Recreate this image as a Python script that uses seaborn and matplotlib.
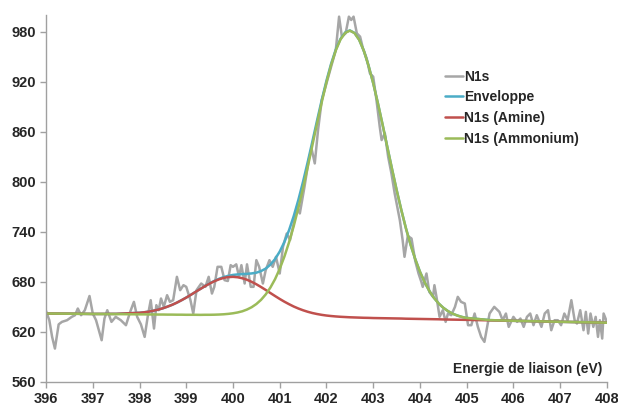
import matplotlib
matplotlib.use("Agg")
import matplotlib.pyplot as plt
import seaborn as sns
import pandas as pd

# ---- data ----
energy = [396.00, 396.07, 396.13, 396.19, 396.27, 396.34, 396.45, 396.55, 396.62, 396.68,
          396.75, 396.83, 396.93, 397.00, 397.07, 397.19, 397.25, 397.31, 397.40, 397.49,
          397.60, 397.71, 397.80, 397.88, 397.95, 398.03, 398.11, 398.18, 398.24, 398.31,
          398.36, 398.41, 398.46, 398.52, 398.59, 398.65, 398.72, 398.80, 398.87, 398.94,
          399.00, 399.09, 399.15, 399.22, 399.32, 399.41, 399.48, 399.55, 399.60, 399.67,
          399.75, 399.82, 399.89, 399.95, 400.00, 400.07, 400.13, 400.18, 400.25, 400.30,
          400.38, 400.44, 400.50, 400.56, 400.64, 400.70, 400.78, 400.85, 400.92, 401.00,
          401.07, 401.15, 401.22, 401.30, 401.37, 401.43, 401.53, 401.62, 401.68, 401.75,
          401.82, 401.90, 402.00, 402.10, 402.20, 402.27, 402.33, 402.41, 402.48, 402.53,
          402.58, 402.65, 402.72, 402.78, 402.86, 402.93, 403.00, 403.07, 403.14, 403.18,
          403.25, 403.32, 403.39, 403.46, 403.57, 403.63, 403.67, 403.74, 403.82, 403.90,
          403.97, 404.03, 404.06, 404.14, 404.20, 404.28, 404.31, 404.36, 404.42, 404.49,
          404.55, 404.60, 404.67, 404.75, 404.81, 404.88, 404.96, 405.03, 405.10, 405.17,
          405.24, 405.31, 405.38, 405.49, 405.59, 405.70, 405.77, 405.84, 405.90, 406.00,
          406.08, 406.15, 406.22, 406.29, 406.36, 406.43, 406.50, 406.60, 406.67, 406.74,
          406.81, 406.88, 406.95, 407.02, 407.09, 407.16, 407.24, 407.31, 407.36, 407.43,
          407.50, 407.55, 407.60, 407.65, 407.71, 407.76, 407.81, 407.85, 407.90, 407.93,
          408.00]
n1s = [645, 634, 614, 600, 629, 632, 634, 638, 640, 648,
       640, 646, 663, 642, 634, 610, 636, 646, 632, 638,
       634, 628, 644, 656, 638, 629, 614, 640, 658, 624,
       652, 646, 660, 650, 664, 656, 658, 686, 670, 676,
       674, 658, 642, 670, 678, 674, 686, 666, 674, 698,
       698, 682, 681, 700, 698, 701, 686, 700, 678, 701,
       674, 674, 706, 698, 678, 694, 706, 698, 710, 690,
       722, 738, 730, 750, 770, 762, 794, 826, 840, 822,
       862, 898, 918, 938, 958, 998, 974, 978, 998, 994,
       998, 978, 974, 960, 948, 930, 926, 898, 866, 850,
       858, 830, 810, 786, 754, 730, 710, 735, 732, 705,
       690, 680, 674, 690, 668, 662, 676, 660, 638, 646,
       632, 642, 640, 650, 662, 656, 654, 628, 628, 642,
       626, 614, 608, 642, 650, 644, 634, 642, 626, 638,
       632, 636, 626, 638, 642, 628, 640, 626, 642, 646,
       622, 634, 634, 628, 642, 634, 658, 634, 630, 646,
       622, 644, 618, 642, 626, 638, 614, 634, 612, 642,
       632]

fit_energy = [396.0, 396.5, 397.0, 397.5, 398.0, 398.1, 398.2, 398.3, 398.4, 398.5,
              398.6, 398.7, 398.8, 398.9, 399.0, 399.1, 399.2, 399.3, 399.4, 399.5,
              399.6, 399.7, 399.8, 399.9, 400.0, 400.1, 400.2, 400.3, 400.4, 400.5,
              400.6, 400.7, 400.8, 400.9, 401.0, 401.1, 401.2, 401.3, 401.4, 401.5,
              401.6, 401.7, 401.8, 401.9, 402.0, 402.1, 402.2, 402.3, 402.4, 402.5,
              402.6, 402.7, 402.8, 402.9, 403.0, 403.1, 403.2, 403.3, 403.4, 403.5,
              403.6, 403.7, 403.8, 403.9, 404.0, 404.1, 404.2, 404.3, 404.4, 404.5,
              404.6, 404.7, 404.8, 404.9, 405.0, 405.5, 406.0, 406.5, 407.0, 407.5,
              408.0]
enveloppe = [642.0, 641.8, 641.5, 641.6, 642.9, 643.5, 644.3, 645.4, 646.7, 648.3,
             650.3, 652.5, 655.1, 658.0, 661.2, 664.5, 668.0, 671.5, 674.9, 678.2,
             681.1, 683.6, 685.7, 687.2, 688.3, 688.9, 689.3, 689.6, 690.1, 691.0,
             692.9, 695.9, 700.6, 707.3, 716.3, 727.8, 742.0, 758.9, 778.5, 800.3,
             823.9, 848.6, 873.7, 898.2, 921.2, 941.6, 958.6, 971.3, 979.0, 981.5,
             978.5, 970.3, 957.0, 939.4, 918.3, 894.3, 868.7, 842.3, 816.0, 790.5,
             766.5, 744.3, 724.5, 707.2, 692.2, 679.6, 669.2, 660.8, 654.1, 648.9,
             644.9, 641.8, 639.6, 637.9, 636.7, 634.1, 633.3, 632.7, 632.1, 631.6,
             631.0]
amine = [642.0, 641.8, 641.5, 641.6, 642.9, 643.5, 644.3, 645.4, 646.7, 648.3,
         650.3, 652.5, 655.1, 658.0, 661.1, 664.5, 668.0, 671.4, 674.8, 677.9,
         680.7, 683.0, 684.7, 685.7, 686.0, 685.5, 684.3, 682.5, 680.0, 677.1,
         673.8, 670.3, 666.6, 663.0, 659.5, 656.2, 653.2, 650.4, 648.0, 645.9,
         644.1, 642.6, 641.4, 640.4, 639.6, 639.0, 638.5, 638.1, 637.8, 637.5,
         637.3, 637.1, 636.9, 636.8, 636.6, 636.5, 636.4, 636.3, 636.2, 636.1,
         636.0, 635.8, 635.7, 635.6, 635.5, 635.4, 635.3, 635.2, 635.1, 634.9,
         634.8, 634.7, 634.6, 634.5, 634.4, 633.8, 633.3, 632.7, 632.1, 631.6,
         631.0]
ammonium = [642.0, 641.8, 641.5, 641.3, 641.0, 641.0, 640.9, 640.9, 640.8, 640.8,
            640.7, 640.7, 640.6, 640.6, 640.5, 640.5, 640.5, 640.4, 640.5, 640.5,
            640.6, 640.8, 641.1, 641.6, 642.3, 643.3, 644.7, 646.8, 649.6, 653.4,
            658.4, 664.9, 673.1, 683.2, 695.6, 710.3, 727.5, 747.0, 768.9, 792.7,
            818.0, 844.1, 870.3, 895.7, 919.3, 940.2, 957.6, 970.6, 978.5, 981.2,
            978.3, 970.2, 957.0, 939.3, 918.2, 894.3, 868.7, 842.3, 816.0, 790.5,
            766.5, 744.3, 724.5, 707.2, 692.2, 679.6, 669.2, 660.8, 654.1, 648.9,
            644.9, 641.8, 639.6, 637.9, 636.7, 634.1, 633.3, 632.7, 632.1, 631.6,
            631.0]

series_labels = ["N1s", "Enveloppe", "N1s (Amine)", "N1s (Ammonium)"]
series_colors = ["#A6A6A6", "#4BACC6", "#C0504D", "#9BBB59"]
x_ticks = [396, 397, 398, 399, 400, 401, 402, 403, 404, 405, 406, 407, 408]
y_ticks = [560, 620, 680, 740, 800, 860, 920, 980]
x_label = "Energie de liaison (eV)"

# ---- plotting ----
sns.set_style("white")
plt.rcParams["font.family"] = ["Liberation Sans", "DejaVu Sans"]

fig = plt.figure(figsize=(6.18, 4.05), dpi=100)
ax = fig.add_axes([0.0745, 0.057, 0.9075, 0.906])

raw = pd.DataFrame({"E": energy, "I": n1s})
fits = pd.DataFrame({"E": fit_energy, "env": enveloppe, "am": amine, "amm": ammonium})

sns.lineplot(data=raw, x="E", y="I", ax=ax, color=series_colors[0], lw=1.8,
             label=series_labels[0], estimator=None, sort=False)
sns.lineplot(data=fits, x="E", y="env", ax=ax, color=series_colors[1], lw=1.8,
             label=series_labels[1], estimator=None, sort=False)
sns.lineplot(data=fits, x="E", y="am", ax=ax, color=series_colors[2], lw=1.8,
             label=series_labels[2], estimator=None, sort=False)
sns.lineplot(data=fits, x="E", y="amm", ax=ax, color=series_colors[3], lw=1.8,
             label=series_labels[3], estimator=None, sort=False)

ax.set_xlim(396, 408)
ax.set_ylim(560, 1000)
ax.set_xticks(x_ticks)
ax.set_yticks(y_ticks)
ax.set_xticklabels([str(t) for t in x_ticks], fontweight="bold", fontsize=10.5, color="#262626")
ax.set_yticklabels([str(t) for t in y_ticks], fontweight="bold", fontsize=10.5, color="#262626")
ax.set_xlabel("")
ax.set_ylabel("")
ax.tick_params(axis="both", which="major", direction="out", length=4, width=1,
               color="#A0A0A0", pad=3, bottom=True, left=True)

for side in ["top", "right"]:
    ax.spines[side].set_visible(False)
for side in ["left", "bottom"]:
    ax.spines[side].set_color("#A0A0A0")
    ax.spines[side].set_linewidth(1.0)

ax.text(407.9, 576, x_label, ha="right", va="center", fontsize=10, fontweight="bold",
        color="#262626")

leg = ax.legend(loc="upper left", bbox_to_anchor=(0.72, 0.828),
                bbox_transform=fig.transFigure, frameon=False, borderpad=0,
                borderaxespad=0, handlelength=1.3, handletextpad=0.1,
                labelspacing=0.48, prop={"weight": "bold", "size": 10})
for t in leg.get_texts():
    t.set_color("#262626")

fig.savefig("out.png", dpi=100)
